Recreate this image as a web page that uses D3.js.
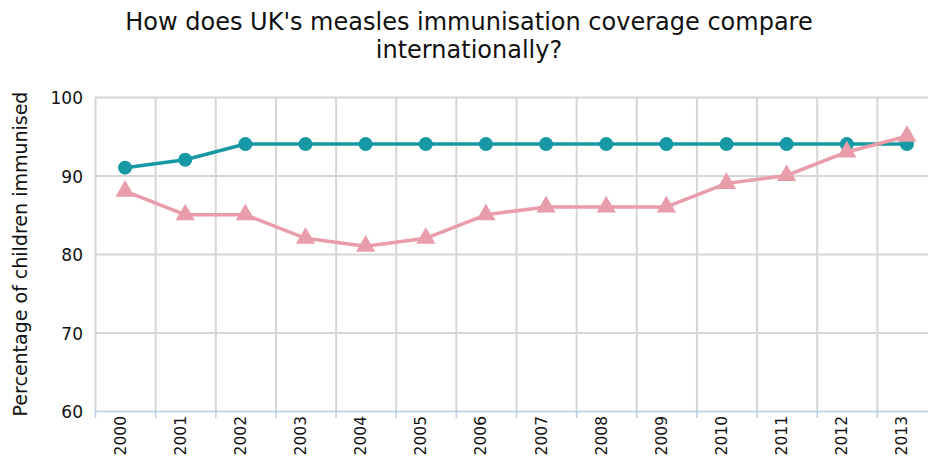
<!DOCTYPE html>
<html>
<head>
<meta charset="utf-8">
<script src="https://cdn.jsdelivr.net/npm/d3@7"></script>
<style>
  body { margin: 0; background: #fff; }
  svg { display: block; overflow: hidden; }
</style>
</head>
<body>
<div id="chart"></div>
<script>
// data
var years = ["2000","2001","2002","2003","2004","2005","2006","2007","2008","2009","2010","2011","2012","2013"];
var ukValues = [91, 92, 94, 94, 94, 94, 94, 94, 94, 94, 94, 94, 94, 94];
var otherValues = [88, 85, 85, 82, 81, 82, 85, 86, 86, 86, 89, 90, 93, 95];
var yTicks = [60, 70, 80, 90, 100];
var titleLines = ["How does UK's measles immunisation coverage compare", "internationally?"];

var width = 928, height = 460;
var margin = {top: 97, left: 95, bottom: 49};
var plotRight = 937; // plot runs past the window edge in the reference

var svg = d3.select("#chart").append("svg")
	.attr("width", width)
	.attr("height", height);

var x = d3.scaleBand()
	.domain(years)
	.range([margin.left, plotRight]);

var y = d3.scaleLinear()
	.domain([60, 100])
	.range([height - margin.bottom, margin.top]);

/** Title **/
svg.append("g").selectAll("text")
	.data(titleLines)
	.enter().append("text")
	.attr("x", 469)
	.attr("y", function(d, i){ return 30 + i * 28; })
	.attr("text-anchor", "middle")
	.style("font-family", "'DejaVu Sans', sans-serif")
	.style("font-size", "24px")
	.style("fill", "#111")
	.text(function(d){ return d; });

/** Grid **/
// horizontal grid lines
svg.append("g").selectAll("line")
	.data(yTicks.filter(function(d){ return d > 60; }))
	.enter().append("line")
	.attr("x1", margin.left)
	.attr("x2", plotRight)
	.attr("y1", function(d){ return y(d) + 0.5; })
	.attr("y2", function(d){ return y(d) + 0.5; })
	.style("stroke", "#d6d6d2")
	.style("stroke-width", 2);

// vertical grid lines on band boundaries
var bounds = years.map(function(d){ return x(d); });
svg.append("g").selectAll("line")
	.data(bounds)
	.enter().append("line")
	.attr("x1", function(d){ return d + 0.5; })
	.attr("x2", function(d){ return d + 0.5; })
	.attr("y1", y(100))
	.attr("y2", y(60))
	.style("stroke", "#d6d6d2")
	.style("stroke-width", 2);

/** Y axis labels **/
svg.append("g").selectAll("text")
	.data(yTicks)
	.enter().append("text")
	.attr("x", 83)
	.attr("y", function(d){ return y(d) + 7; })
	.attr("text-anchor", "end")
	.style("font-family", "'DejaVu Sans', sans-serif")
	.style("font-size", "17px")
	.style("fill", "#111")
	.text(function(d){ return d; });

svg.append("text")
	.attr("transform", "translate(27," + ((y(60) + y(100)) / 2) + ") rotate(-90)")
	.attr("text-anchor", "middle")
	.style("font-family", "'DejaVu Sans', sans-serif")
	.style("font-size", "19px")
	.style("fill", "#111")
	.text("Percentage of children immunised");

/** X axis **/
svg.append("line")
	.attr("x1", margin.left)
	.attr("x2", plotRight)
	.attr("y1", y(60) + 0.5)
	.attr("y2", y(60) + 0.5)
	.style("stroke", "#b5cde6")
	.style("stroke-width", 1.5);

svg.append("g").selectAll("line")
	.data(bounds)
	.enter().append("line")
	.attr("x1", function(d){ return d + 0.5; })
	.attr("x2", function(d){ return d + 0.5; })
	.attr("y1", y(60))
	.attr("y2", y(60) + 7)
	.style("stroke", "#b5cde6")
	.style("stroke-width", 1.5);

svg.append("g").selectAll("text")
	.data(years)
	.enter().append("text")
	.attr("transform", function(d){
		return "translate(" + (x(d) + x.bandwidth() / 2 + 0.5) + "," + (y(60) + 5) + ") rotate(-90)";
	})
	.attr("text-anchor", "end")
	.style("font-family", "'DejaVu Sans', sans-serif")
	.style("font-size", "15.5px")
	.style("fill", "#111")
	.text(function(d){ return d; });

/** Series **/
var cx = function(d, i){ return x(years[i]) + x.bandwidth() / 2; };
var line = d3.line()
	.x(function(d, i){ return cx(d, i); })
	.y(function(d){ return y(d); });

var teal = "#1699a4";
var pink = "#e99caa";

svg.append("path")
	.datum(ukValues)
	.attr("d", line)
	.style("fill", "none")
	.style("stroke", teal)
	.style("stroke-width", 3.5);

svg.append("g").selectAll("circle")
	.data(ukValues)
	.enter().append("circle")
	.attr("cx", cx)
	.attr("cy", function(d){ return y(d); })
	.attr("r", 7)
	.style("fill", teal);

svg.append("path")
	.datum(otherValues)
	.attr("d", line)
	.style("fill", "none")
	.style("stroke", pink)
	.style("stroke-width", 3.5);

svg.append("g").selectAll("path.tri")
	.data(otherValues)
	.enter().append("path")
	.attr("class", "tri")
	.attr("transform", function(d, i){ return "translate(" + cx(d, i) + "," + y(d) + ")"; })
	.attr("d", d3.symbol().type(d3.symbolTriangle).size(160))
	.style("fill", pink);
</script>
</body>
</html>
